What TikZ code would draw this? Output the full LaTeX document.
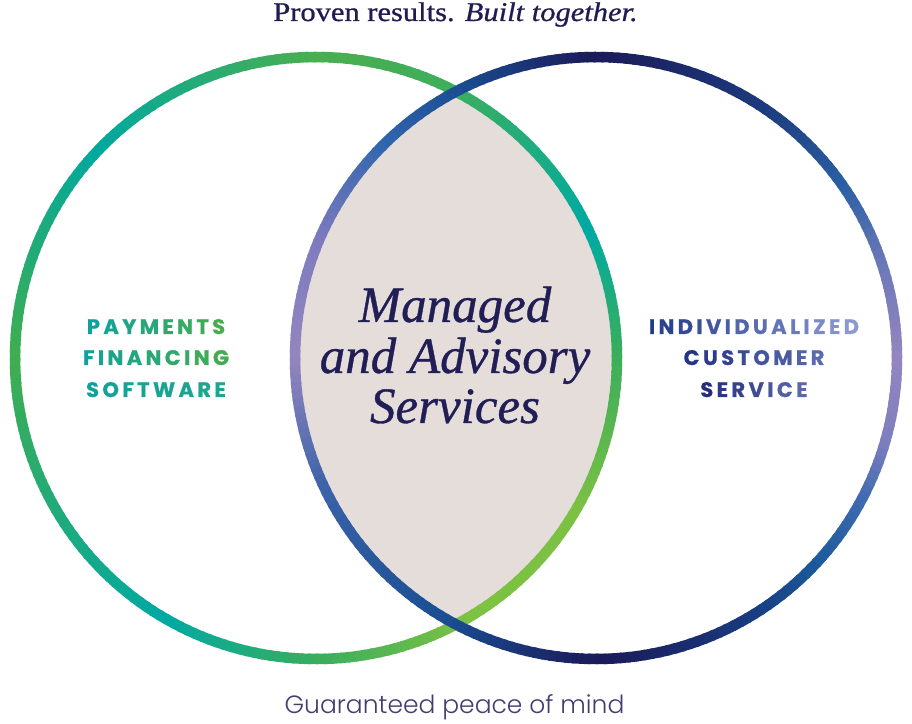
\documentclass[tikz,border=0pt]{standalone}
\usepackage{fontspec}
\setmainfont{Liberation Serif}
\newfontfamily\titlefont{Liberation Serif}[FakeStretch=1.13, FakeBold=0.8]
\newfontfamily\centfont{Liberation Serif}[FakeBold=0.7]
\newfontfamily\labfont{Poppins}[FakeBold=0.8]
\newfontfamily\botfont{Poppins Light}
\definecolor{titlec}{HTML}{1F1C52}
\definecolor{centc}{HTML}{211D55}
\definecolor{botc}{HTML}{433E72}
\definecolor{fillc}{HTML}{E5DDDA}
% left ring key colours
\definecolor{lA}{HTML}{3BAE5B}
\definecolor{lB}{HTML}{00AAA2}
\definecolor{lC}{HTML}{3EAE5C}
\definecolor{lD}{HTML}{4BAE4F}
\definecolor{lE}{HTML}{00A99F}
\definecolor{lF}{HTML}{40AD50}
\definecolor{lG}{HTML}{00A9A3}
\definecolor{lH}{HTML}{3AAD5E}
\definecolor{lI}{HTML}{7DC242}
\definecolor{lJ}{HTML}{7BC143}
% right ring key colours
\definecolor{rA}{HTML}{9585C0}
\definecolor{rB}{HTML}{6C79B8}
\definecolor{rC}{HTML}{2A5FA3}
\definecolor{rD}{HTML}{1C3A7C}
\definecolor{rE}{HTML}{1B1A58}
\definecolor{rF}{HTML}{1A4A8E}
\definecolor{rG}{HTML}{3066AE}
\definecolor{rH}{HTML}{7D7BBF}
\definecolor{rI}{HTML}{9486BF}
\definecolor{rJ}{HTML}{3A62A8}
\definecolor{rK}{HTML}{1A4E92}
\definecolor{rL}{HTML}{183A7E}
\definecolor{rM}{HTML}{1B5A9B}
\definecolor{rN}{HTML}{3F6AB0}
\definecolor{rO}{HTML}{7D7FBF}
% label colours
\definecolor{tA}{HTML}{0FA29C}
\definecolor{gA}{HTML}{47AD4C}
\definecolor{gB}{HTML}{43AC50}
\definecolor{gC}{HTML}{22A58C}
\definecolor{nA}{HTML}{233A8C}
\definecolor{nB}{HTML}{8C98CF}
\definecolor{nC}{HTML}{243585}
\definecolor{nD}{HTML}{5A6AAD}
\definecolor{nE}{HTML}{262D7C}
\definecolor{nF}{HTML}{5D68AB}
\newlength\labsp
\setlength\labsp{3.4pt}
\newcommand\gword[4]{%
  \foreach \l [count=\i] in {#4}{%
    \pgfmathtruncatemacro\pc{round(100-100*(\i-1)/(#3-1))}%
    \textcolor{#1!\pc!#2}{\l}\ifnum\i<#3\kern\labsp\fi}}
\newcommand\gradring[2]{% centre coordinate, key list a/b/ca/cb
  \foreach \a/\b/\ca/\cb in {#2}{%
    \pgfmathtruncatemacro\nseg{max(1,round((\b-\a)/1.5))}%
    \foreach \k in {1,...,\nseg}{%
      \pgfmathsetmacro\sa{\a+(\b-\a)*(\k-1)/\nseg}%
      \pgfmathsetmacro\ea{\a+(\b-\a)*\k/\nseg+0.5}%
      \pgfmathtruncatemacro\pc{round(100-100*(\k-0.5)/\nseg)}%
      \draw[ring, draw=\ca!\pc!\cb] ([shift={(\sa:301)}]#1) arc[start angle=\sa, end angle=\ea, radius=301];
    }%
  }}
\begin{document}
\begin{tikzpicture}[x=1pt,y=1pt,
  ring/.style={line width=10.5pt, line cap=butt},
  lab/.style={anchor=base, inner sep=0pt, font=\labfont\bfseries\fontsize{21}{24}\selectfont},
  cent/.style={anchor=base, inner sep=0pt, text=centc, font=\centfont\itshape\fontsize{51}{55}\selectfont}]
\useasboundingbox (0,0) rectangle (912,723);
\fill[white] (0,0) rectangle (912,723);
\coordinate (L) at (316,365);
\coordinate (R) at (596,365);
% intersection fill
\begin{scope}
  \clip (L) circle[radius=301];
  \fill[fillc] (R) circle[radius=301];
\end{scope}
% left ring
\gradring{L}{0/25/lA/lB, 25/64/lB/lC, 64/90/lC/lD, 90/136/lD/lE, 136/180/lE/lF, 180/240/lF/lG, 240/270/lG/lH, 270/300/lH/lI, 300/330/lI/lJ, 330/360/lJ/lA}
% right ring
\gradring{R}{0/18/rA/rB, 18/35/rB/rC, 35/57/rC/rD, 57/90/rD/rE, 90/115/rE/rF, 115/135/rF/rG, 135/157/rG/rH, 157/180/rH/rI, 180/206/rI/rJ, 206/240/rJ/rK, 240/270/rK/rE, 270/300/rE/rL, 300/317/rL/rM, 317/332/rM/rN, 332/344/rN/rO, 344/360/rO/rA}
% title
\node[anchor=base, inner sep=0pt, text=titlec, font=\titlefont\fontsize{27}{30}\selectfont] (title) at (455.5,702) {Proven results. \textit{Built together.}};
% centre text
\node[cent] (c1) at (455,401) {Managed};
\node[cent] (c2) at (455,350) {and Advisory};
\node[cent] (c3) at (455,300) {Services};
% left labels
\node[lab] (l1) at (156,389) {\gword{tA}{gA}{8}{P,A,Y,M,E,N,T,S}};
\node[lab] (l2) at (156,358) {\gword{tA}{gB}{9}{F,I,N,A,N,C,I,N,G}};
\node[lab] (l3) at (156,326) {\gword{tA}{gC}{8}{S,O,F,T,W,A,R,E}};
% right labels
\node[lab] (r1) at (754,389) {\gword{nA}{nB}{14}{I,N,D,I,V,I,D,U,A,L,I,Z,E,D}};
\node[lab] (r2) at (754,358) {\gword{nC}{nD}{8}{C,U,S,T,O,M,E,R}};
\node[lab] (r3) at (754,326) {\gword{nE}{nF}{7}{S,E,R,V,I,C,E}};
% bottom
\node[anchor=base, inner sep=0pt, text=botc, font=\botfont\fontsize{25}{28}\selectfont] (bottom) at (454.5,10) {Guaranteed peace of mind};
\end{tikzpicture}
\end{document}
